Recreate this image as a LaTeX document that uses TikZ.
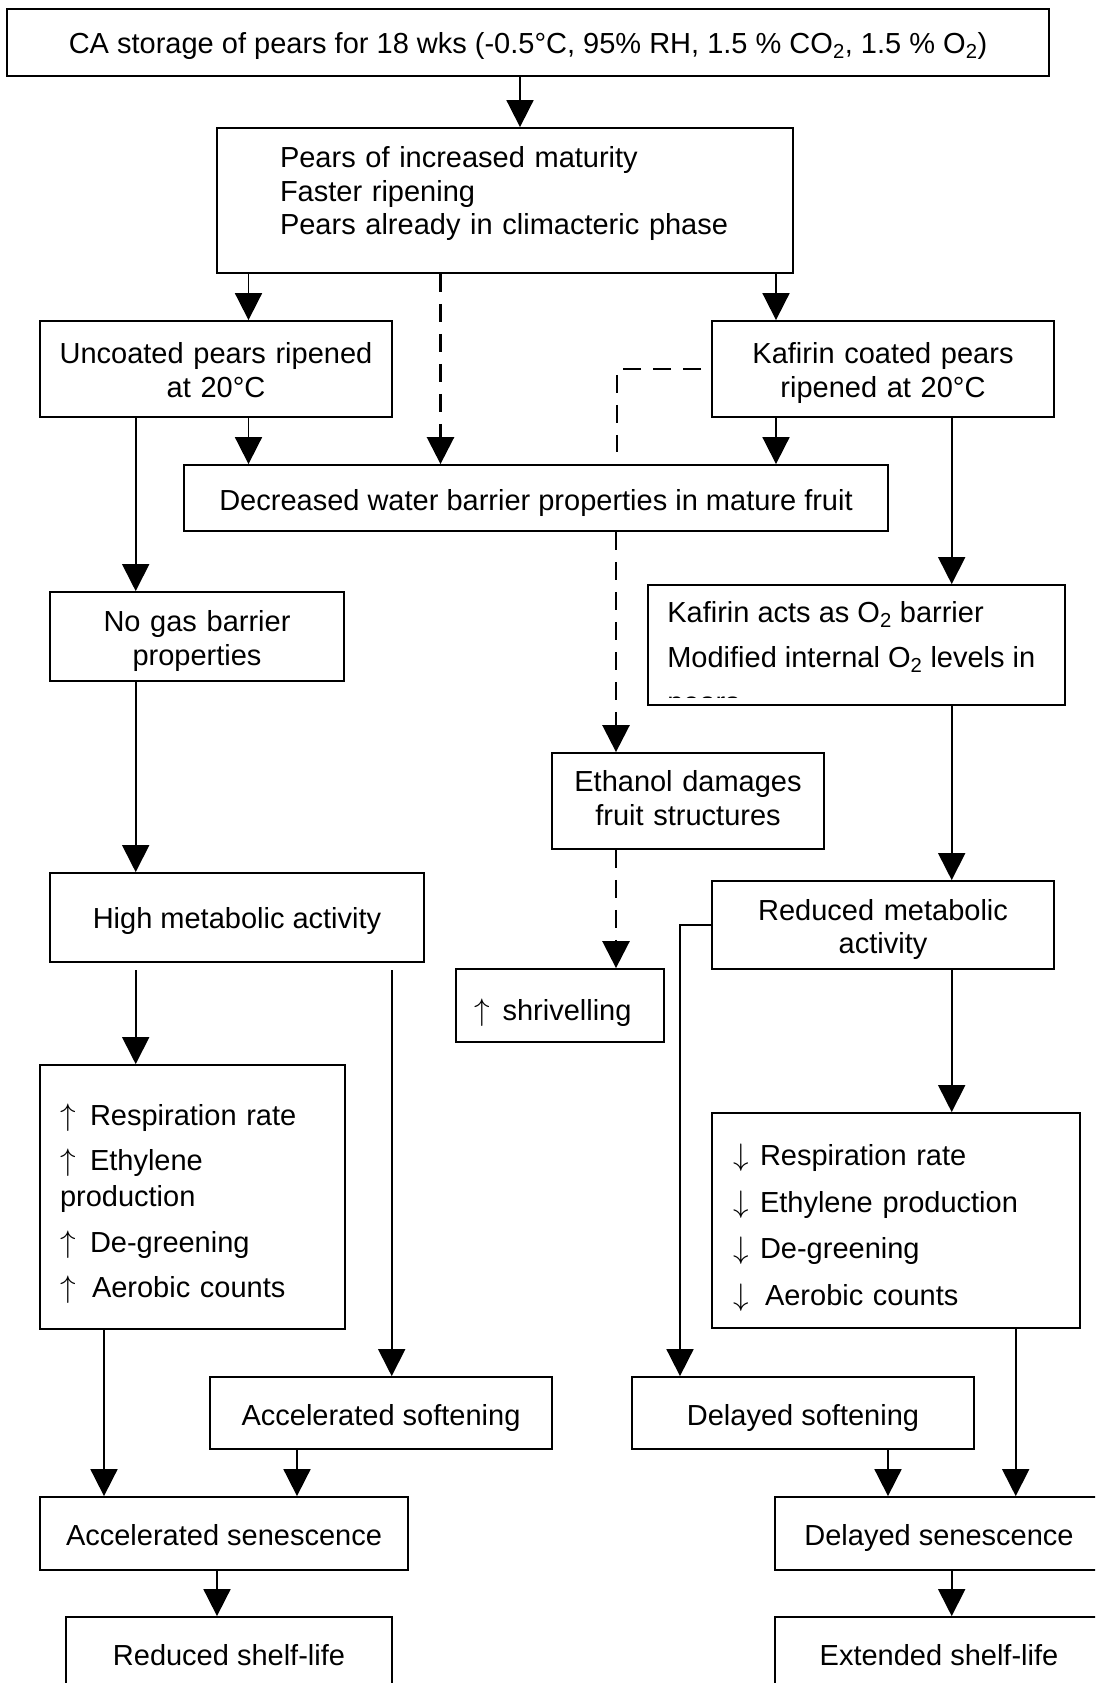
\documentclass[tikz,border=0pt]{standalone}
\usepackage{fontspec}
\setmainfont{Liberation Sans}
\usetikzlibrary{arrows.meta}
\newcommand{\incr}[1][30pt]{\makebox[#1][l]{\scalebox{1.25}{$\uparrow$}}}
\newcommand{\decr}[1][27pt]{\makebox[#1][l]{\scalebox{1.25}{$\downarrow$}}}

\begin{document}
\begin{tikzpicture}[x=1pt,y=-1pt,
    font=\fontsize{29}{33.5}\selectfont,
    flowbox/.style={draw,line width=1.8pt,align=center,inner sep=0pt},
    listbox/.style={draw,line width=1.8pt,align=left,inner ysep=0pt},
    txtdown/.style={text height=#1,text depth=0pt},
    txtup/.style={text height=0pt,text depth=#1},
    arr/.style={line width=1.8pt,-{Triangle[length=27pt,width=27pt]}},
    dasharr/.style={arr,line width=2.6pt,dash pattern=on 18pt off 12pt},
    dashline/.style={line width=2.6pt,dash pattern=on 18pt off 12pt}]
          \useasboundingbox (0,0) rectangle (1095,1683);
          \clip (0,0) rectangle (1095,1683);

          \node[flowbox,txtdown=21.4pt,minimum width=1042pt,minimum height=67pt] (store) at (528,42.5) {CA storage of pears for 18 wks (-0.5°C, 95\% RH, 1.5 \% CO\textsubscript{2}, 1.5 \% O\textsubscript{2})};
          \node[flowbox,align=left,text width=462pt,txtup=66pt,minimum width=576pt,minimum height=145pt] (matur) at (505,200.5) {\hspace*{6pt}Pears of increased maturity\\\hspace*{6pt}Faster ripening\\\hspace*{6pt}Pears already in climacteric phase};
          \node[flowbox,text width=340pt,txtup=11pt,minimum width=352pt,minimum height=96pt] (uncoat) at (216,369) {Uncoated pears ripened\\at 20°C};
          \node[flowbox,text width=330pt,txtup=11pt,minimum width=342pt,minimum height=96pt] (coat) at (883,369) {Kafirin coated pears\\ripened at 20°C};
          \node[flowbox,txtdown=24pt,minimum width=704pt,minimum height=66pt] (water) at (536,498) {Decreased water barrier properties in mature fruit};
          \node[flowbox,text width=280pt,txtup=10pt,minimum width=294pt,minimum height=89pt] (nogas) at (197,636.5) {No gas barrier\\properties};
          \node[flowbox,minimum width=417pt,minimum height=120pt] (kafact) at (856.5,645) {};
          \begin{scope}
            \clip (kafact.north west) rectangle ([yshift=8pt]kafact.south east);
            \node[anchor=north west,align=left,inner sep=0pt] (kafacttxt) at ([xshift=20pt,yshift=-17pt]kafact.north west) {Kafirin acts as O\textsubscript{2} barrier\\[11.5pt]Modified internal O\textsubscript{2} levels in\\[12pt]pears};
          \end{scope}
          \node[flowbox,text width=262pt,txtup=18.8pt,minimum width=272pt,minimum height=96pt] (ethanol) at (688,801) {Ethanol damages\\fruit structures};
          \node[flowbox,txtdown=29pt,minimum width=208pt,minimum height=73pt] (shrivel) at (560,1005.5) {\incr[28pt]shrivelling\hspace{14pt}};
          \node[flowbox,txtdown=22.6pt,minimum width=374pt,minimum height=89pt] (highmet) at (237,917.5) {High metabolic activity};
          \node[flowbox,text width=330pt,txtup=10pt,minimum width=342pt,minimum height=88pt] (redmet) at (883,925) {Reduced metabolic\\activity};
          \node[listbox,text width=265pt,inner xsep=20pt,txtup=144pt,minimum height=264pt] (upresp) at (192.5,1197) {\incr Respiration rate\\[12pt]\incr Ethylene\\[2.5pt]production\\[12pt]\incr De-greening\\[12pt]\incr\hspace{2pt}Aerobic counts};
          \node[listbox,text width=326pt,inner xsep=21pt,txtup=110pt,minimum height=215pt] (downresp) at (896,1220.5) {\decr Respiration rate\\[13pt]\decr Ethylene production\\[13pt]\decr De-greening\\[13pt]\decr\hspace{5pt}Aerobic counts};
          \node[flowbox,txtdown=25.8pt,minimum width=342pt,minimum height=72pt] (accsoft) at (381,1413) {Accelerated softening};
          \node[flowbox,txtdown=25.8pt,minimum width=342pt,minimum height=72pt] (delsoft) at (803,1413) {Delayed softening};
          \node[flowbox,txtdown=24pt,minimum width=368pt,minimum height=73pt] (accsen) at (224,1533.5) {Accelerated senescence};
          \node[flowbox,txtdown=24pt,minimum width=328pt,minimum height=73pt] (delsen) at (939,1533.5) {Delayed senescence};
          \node[flowbox,txtdown=20pt,minimum width=326pt,minimum height=77pt] (redlife) at (229,1655.5) {Reduced shelf-life};
          \node[flowbox,txtdown=20pt,minimum width=328pt,minimum height=77pt] (extlife) at (939,1655.5) {Extended shelf-life};

          \draw[arr] (store.south -| 520,0) -- (matur.north -| 520,0);

          \draw[arr] (matur.south -| 248.5,0) -- (uncoat.north -| 248.5,0);
          \draw[dasharr] (matur.south -| 440.5,0) -- (water.north -| 440.5,0);
          \draw[arr] (matur.south -| 776,0) -- (coat.north -| 776,0);

          \draw[arr] (uncoat.south -| 248.5,0) -- (water.north -| 248.5,0);
          \draw[arr] (coat.south -| 776,0) -- (water.north -| 776,0);
          \draw[dashline,shorten <=10pt,shorten >=12pt] (coat.west) -| (water.north -| 617,0);

          \draw[dasharr] (water.south -| 616,0) -- (ethanol.north -| 616,0);
          \draw[dasharr] (ethanol.south -| 616,0) -- (shrivel.north -| 616,0);

          \draw[arr] (uncoat.south -| 135.7,0) -- (nogas.north -| 135.7,0);
          \draw[arr] (nogas.south -| 135.7,0) -- (highmet.north -| 135.7,0);
          \draw[arr,shorten <=7.5pt] (highmet.south -| 135.7,0) -- (upresp.north -| 135.7,0);
          \draw[arr,shorten <=7.5pt] (highmet.south -| 391.7,0) -- (accsoft.north -| 391.7,0);

          \draw[arr] (coat.south -| 951.7,0) -- (kafact.north -| 951.7,0);
          \draw[arr] (kafact.south -| 951.7,0) -- (redmet.north -| 951.7,0);
          \draw[arr] (redmet.south -| 951.7,0) -- (downresp.north -| 951.7,0);
          \draw[arr] (redmet.west) -| (delsoft.north -| 680,0);

          \draw[arr] (upresp.south -| 104,0) -- (accsen.north -| 104,0);
          \draw[arr] (accsoft.south -| 297,0) -- (accsen.north -| 297,0);
          \draw[arr] (accsen.south -| 217,0) -- (redlife.north -| 217,0);

          \draw[arr] (delsoft.south -| 888,0) -- (delsen.north -| 888,0);
          \draw[arr] (downresp.south -| 1015.7,0) -- (delsen.north -| 1015.7,0);
          \draw[arr] (delsen.south -| 951.7,0) -- (extlife.north -| 951.7,0);

      \end{tikzpicture}
\end{document}
